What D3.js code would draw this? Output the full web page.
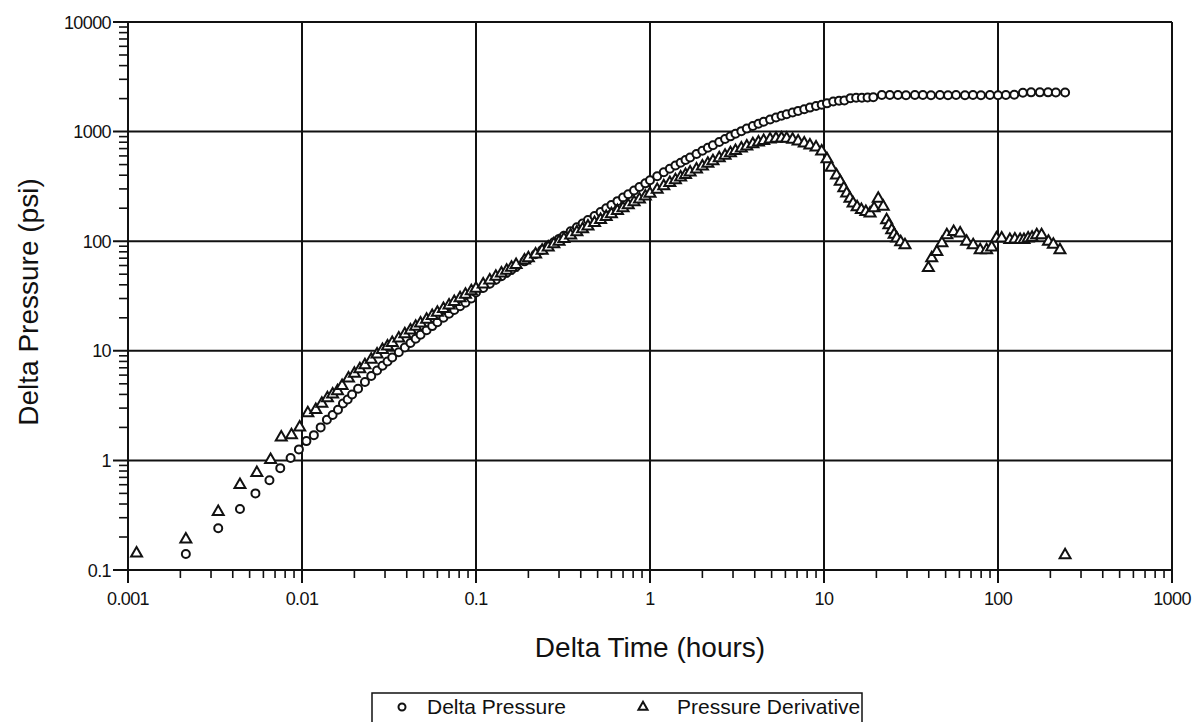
<!DOCTYPE html>
<html>
<head>
<meta charset="utf-8">
<script src="https://cdn.jsdelivr.net/npm/d3@7"></script>
<style>
  body { margin: 0; background: #fff; }
  text { font-family: "Liberation Sans", Arial, sans-serif; fill: #111; }
</style>
</head>
<body>
<svg id="chart" width="1194" height="722"></svg>
<script>
// delta pressure (circles)
var dpTime = [0.00215, 0.0033, 0.0044, 0.0054, 0.0065, 0.0075, 0.0086, 0.0096, 0.0106, 0.0117,
  0.0128, 0.0139, 0.015, 0.0161, 0.0172, 0.0183, 0.0194, 0.021, 0.023, 0.025,
  0.027, 0.029, 0.031, 0.033, 0.036, 0.039, 0.042, 0.045, 0.048, 0.052,
  0.056, 0.06, 0.065, 0.07, 0.075, 0.081, 0.087, 0.094, 0.1, 0.11,
  0.12, 0.13, 0.14, 0.15, 0.16, 0.17, 0.19, 0.2, 0.22, 0.24,
  0.26, 0.28, 0.3, 0.32, 0.35, 0.38, 0.41, 0.44, 0.48, 0.52,
  0.56, 0.6, 0.65, 0.7, 0.75, 0.81, 0.87, 0.94, 1.0, 1.1,
  1.2, 1.3, 1.4, 1.5, 1.6, 1.7, 1.85, 2.0, 2.15, 2.3,
  2.5, 2.7, 2.9, 3.1, 3.35, 3.6, 3.9, 4.2, 4.5, 4.9,
  5.3, 5.7, 6.1, 6.6, 7.1, 7.7, 8.3, 9.0, 9.7, 10.4,
  11.3, 12.2, 13.1, 14.2, 15.3, 16.5, 17.8, 19.2, 21.5, 23.9,
  26.6, 29.6, 33.3, 37, 41.2, 46.4, 51.6, 57.4, 64.6, 71.8,
  79.8, 89.9, 100, 111, 124, 139, 155, 174, 194, 215, 243];
var dpValue = [0.14, 0.24, 0.36, 0.50, 0.66, 0.85, 1.05, 1.26, 1.5, 1.7,
  2.0, 2.35, 2.6, 2.9, 3.3, 3.6, 4.0, 4.5, 5.2, 5.9,
  6.6, 7.3, 8.0, 8.7, 9.7, 10.7, 11.8, 12.9, 14.0, 15.4,
  16.8, 18.2, 20, 21.8, 23.6, 25.5, 27.5, 30, 34, 37.5,
  41, 44.5, 48, 51.5, 55, 58.5, 65.5, 69, 76, 83,
  91, 98, 105, 112, 123, 134, 145, 156, 170, 185,
  200, 214, 232, 250, 268, 290, 312, 337, 360, 392,
  425, 458, 490, 520, 550, 580, 625, 670, 712, 752,
  805, 855, 905, 955, 1010, 1065, 1125, 1180, 1230, 1290,
  1345, 1395, 1440, 1495, 1545, 1600, 1655, 1710, 1760, 1810,
  1880, 1910, 1920, 2020, 2040, 2040, 2050, 2060, 2160, 2160,
  2160, 2150, 2160, 2160, 2150, 2160, 2150, 2160, 2150, 2160,
  2150, 2160, 2150, 2160, 2170, 2260, 2280, 2280, 2280, 2270, 2270];

// pressure derivative (triangles)
var pdTime = [0.00112, 0.00215, 0.0033, 0.0044, 0.0055, 0.0066, 0.0076, 0.0087, 0.0097, 0.0108,
  0.012, 0.013, 0.014, 0.015, 0.016, 0.017, 0.0185, 0.02, 0.0215, 0.023,
  0.025, 0.027, 0.029, 0.031, 0.033, 0.036, 0.039, 0.042, 0.045, 0.048,
  0.052, 0.056, 0.06, 0.065, 0.07, 0.075, 0.081, 0.087, 0.094, 0.1,
  0.11, 0.12, 0.13, 0.14, 0.15, 0.16, 0.17, 0.19, 0.2, 0.22,
  0.24, 0.26, 0.28, 0.3, 0.32, 0.35, 0.38, 0.41, 0.44, 0.48,
  0.52, 0.56, 0.6, 0.65, 0.7, 0.75, 0.81, 0.87, 0.94, 1.0,
  1.1, 1.2, 1.3, 1.4, 1.5, 1.6, 1.7, 1.85, 2.0, 2.15,
  2.3, 2.5, 2.7, 2.9, 3.1, 3.35, 3.6, 3.9, 4.2, 4.5,
  4.9, 5.3, 5.7, 6.1, 6.6, 7.1, 7.7, 8.3, 9.0, 9.7,
  10.4, 11.0, 11.8, 12.4, 13.0, 13.5, 14.1, 14.7, 15.5, 16.4,
  17.4, 18.4, 19.4, 20.5, 21.9, 22.9, 23.6, 24.5, 25.3, 26.2,
  27.6, 29.2, 39.8, 41.6, 44.5, 47.6, 50.8, 55.6, 60.6, 66,
  72, 79, 86, 92, 98, 105, 117, 125, 134, 141,
  149, 157, 167, 178, 195, 208, 227, 243];
var pdValue = [0.142, 0.19, 0.34, 0.60, 0.77, 1.01, 1.62, 1.70, 2.0, 2.7,
  2.9, 3.3, 3.7, 4.0, 4.3, 4.8, 5.6, 6.2, 6.8, 7.4,
  8.3, 9.3, 10.2, 11.0, 11.8, 13.0, 14.2, 15.4, 16.6, 17.8,
  19.3, 20.8, 22.3, 24.2, 26, 28, 30.3, 32.5, 35, 37,
  40.5, 44, 47.5, 51, 54, 57.5, 61, 67, 70, 76,
  82, 88, 94, 99, 105, 113, 121, 129, 137, 147,
  157, 167, 177, 189, 201, 213, 227, 241, 257, 272,
  295, 318, 340, 362, 383, 404, 424, 453, 482, 510,
  537, 572, 605, 637, 667, 702, 735, 770, 800, 825,
  850, 865, 870, 865, 845, 815, 780, 750, 720, 660,
  560, 470, 400, 350, 305, 273, 245, 222, 205, 193,
  185, 180, 200, 245, 207, 156, 140, 126, 115, 106,
  98, 92, 57, 70, 80, 96, 114, 122, 118, 99,
  92, 83, 83, 88, 106, 106, 103, 104, 103, 103,
  106, 108, 114, 114, 99, 93, 83, 0.137];

var xTicks = [0.001, 0.01, 0.1, 1, 10, 100, 1000];
var xTickLabels = ["0.001", "0.01", "0.1", "1", "10", "100", "1000"];
var yTicks = [0.1, 1, 10, 100, 1000, 10000];
var yTickLabels = ["0.1", "1", "10", "100", "1000", "10000"];
var minorSteps = [2, 3, 4, 5, 6, 7, 8, 9];
var seriesNames = ["Delta Pressure", "Pressure Derivative"];

var svg = d3.select("#chart");
var plotLeft = 128, plotRight = 1172, plotTop = 22, plotBottom = 570;

var x = d3.scaleLog().domain([0.001, 1000]).range([plotLeft, plotRight]);
var y = d3.scaleLog().domain([0.1, 10000]).range([plotBottom, plotTop]);

// minor ticks (2..9 inside each decade)
var minorX = [], minorY = [];
xTicks.slice(0, -1).forEach(function(d){
  minorSteps.forEach(function(k){ minorX.push(d * k); });
});
yTicks.slice(0, -1).forEach(function(d){
  minorSteps.forEach(function(k){ minorY.push(d * k); });
});

svg.append("g").selectAll("line").data(minorX).enter().append("line")
  .attr("x1", function(d){ return x(d); }).attr("x2", function(d){ return x(d); })
  .attr("y1", plotBottom).attr("y2", plotBottom + 8)
  .attr("stroke", "#111").attr("stroke-width", 1.6);
svg.append("g").selectAll("line").data(minorY).enter().append("line")
  .attr("y1", function(d){ return y(d); }).attr("y2", function(d){ return y(d); })
  .attr("x1", plotLeft - 9).attr("x2", plotLeft)
  .attr("stroke", "#111").attr("stroke-width", 1.6);

// gridlines at decades
svg.append("g").selectAll("line").data(xTicks).enter().append("line")
  .attr("x1", function(d){ return x(d); }).attr("x2", function(d){ return x(d); })
  .attr("y1", plotTop).attr("y2", plotBottom + 13)
  .attr("stroke", "#111").attr("stroke-width", 2);
svg.append("g").selectAll("line").data(yTicks).enter().append("line")
  .attr("y1", function(d){ return y(d); }).attr("y2", function(d){ return y(d); })
  .attr("x1", plotLeft - 15).attr("x2", plotRight)
  .attr("stroke", "#111").attr("stroke-width", 2);

// tick labels
svg.append("g").selectAll("text").data(xTicks).enter().append("text")
  .attr("x", function(d){ return x(d); })
  .attr("y", plotBottom + 35)
  .attr("text-anchor", "middle")
  .style("font-size", "18px").style("letter-spacing", "-0.6px")
  .text(function(d, i){ return xTickLabels[i]; });
svg.append("g").selectAll("text").data(yTicks).enter().append("text")
  .attr("x", plotLeft - 17)
  .attr("y", function(d){ return y(d) + 6.5; })
  .attr("text-anchor", "end")
  .style("font-size", "18px").style("letter-spacing", "-0.6px")
  .text(function(d, i){ return yTickLabels[i]; });

// axis titles
svg.append("text").attr("x", 650).attr("y", 657)
  .attr("text-anchor", "middle").style("font-size", "28px")
  .text("Delta Time (hours)");
svg.append("text")
  .attr("transform", "translate(38,302) rotate(-90)")
  .attr("text-anchor", "middle").style("font-size", "28px")
  .text("Delta Pressure (psi)");

// data
var dpData = dpTime.map(function(t, i){ return {t: t, v: dpValue[i]}; });
var pdData = pdTime.map(function(t, i){ return {t: t, v: pdValue[i]}; });

var tri = d3.symbol().type(d3.symbolTriangle).size(52);

svg.append("g").selectAll("circle").data(dpData).enter().append("circle")
  .attr("cx", function(d){ return x(d.t); })
  .attr("cy", function(d){ return y(d.v); })
  .attr("r", 4)
  .attr("fill", "#fff").attr("stroke", "#111").attr("stroke-width", 2);

svg.append("g").selectAll("path").data(pdData).enter().append("path")
  .attr("d", tri)
  .attr("transform", function(d){ return "translate(" + x(d.t) + "," + y(d.v) + ")"; })
  .attr("fill", "#fff").attr("stroke", "#111").attr("stroke-width", 2);

// legend
var lg = svg.append("g");
lg.append("rect").attr("x", 372).attr("y", 693).attr("width", 490).attr("height", 40)
  .attr("fill", "#fff").attr("stroke", "#111").attr("stroke-width", 1.5);
lg.append("circle").attr("cx", 402).attr("cy", 707).attr("r", 3.5)
  .attr("fill", "#fff").attr("stroke", "#111").attr("stroke-width", 2);
lg.append("path").attr("d", d3.symbol().type(d3.symbolTriangle).size(36))
  .attr("transform", "translate(643,707)")
  .attr("fill", "#fff").attr("stroke", "#111").attr("stroke-width", 2);
lg.append("text").attr("x", 427).attr("y", 714).style("font-size", "21px").text(seriesNames[0]);
lg.append("text").attr("x", 677).attr("y", 714).style("font-size", "21px").text(seriesNames[1]);
</script>
</body>
</html>
